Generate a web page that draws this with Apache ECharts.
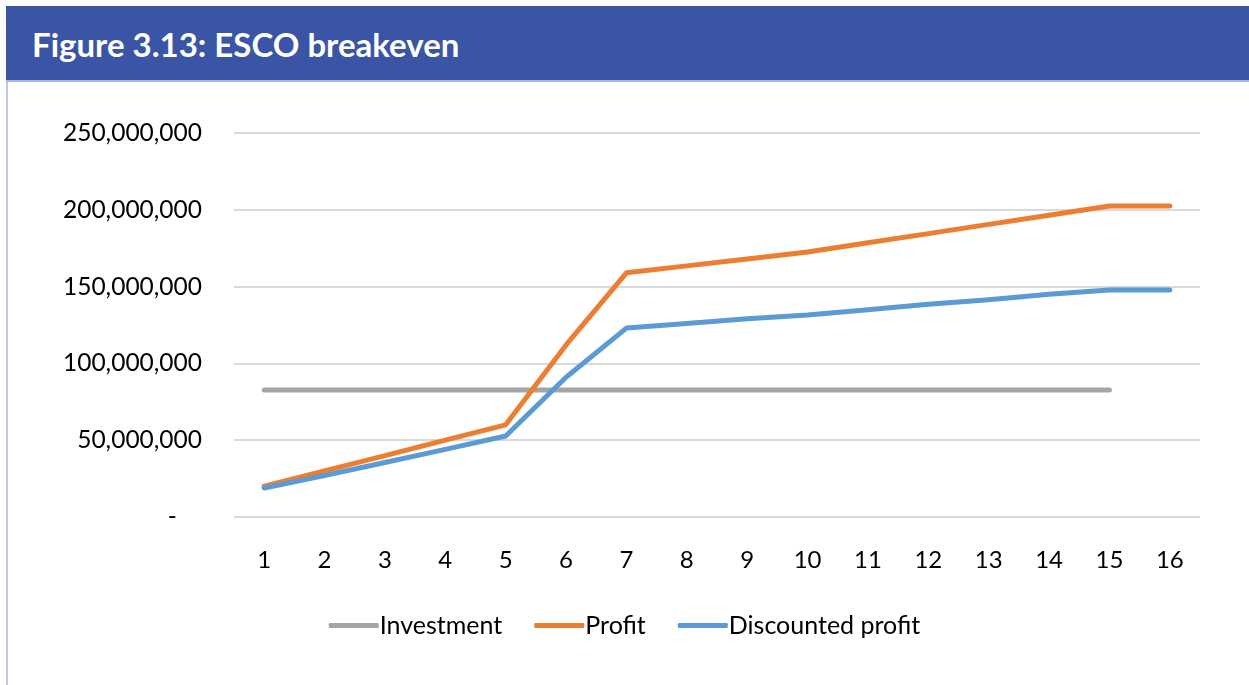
<!DOCTYPE html>
<html>
<head>
<meta charset="utf-8">
<title>Figure 3.13: ESCO breakeven</title>
<script src="https://cdn.jsdelivr.net/npm/echarts@6/dist/echarts.min.js"></script>
<style>
  html, body { margin: 0; padding: 0; background: #fff; }
  .fig { position: relative; width: 1249px; height: 685px; overflow: hidden; }
  .fig-head {
    position: absolute; left: 6px; top: 6px; right: 0; height: 76px;
    background: #3a55a5; border-bottom: 2px solid #a9b6e0;
    color: #fff; font-family: Lato, "Open Sans", sans-serif; font-weight: 700;
    font-size: 33px; line-height: 76px; padding-left: 26px; box-sizing: border-box;
  }
  .fig-border { position: absolute; left: 6px; top: 82px; bottom: 0; width: 2px; background: #c4c4f2; }
  #chart { position: absolute; left: 0; top: 0; width: 1249px; height: 685px; }
</style>
</head>
<body>
<div class="fig">
  <div class="fig-head">Figure 3.13: ESCO breakeven</div>
  <div class="fig-border"></div>
  <div id="chart"></div>
</div>
<script>
const years = ['1', '2', '3', '4', '5', '6', '7', '8', '9', '10', '11', '12', '13', '14', '15', '16']
const investment = [82.7, 82.7, 82.7, 82.7, 82.7, 82.7, 82.7, 82.7, 82.7, 82.7, 82.7, 82.7, 82.7, 82.7, 82.7, null].map(v => v == null ? null : v * 1e6)
const profit = [20, 30, 40, 50, 60, 112, 159, 163.5, 168, 172.5, 178.5, 184.5, 190.5, 196.5, 202.5, 202.5].map(v => v * 1e6)
const discounted = [18.9, 27, 35.5, 44, 52.7, 91, 123, 126, 129, 131.5, 135, 138.5, 141.5, 145, 147.8, 147.8].map(v => v * 1e6)

const font = 'Lato, "Open Sans", sans-serif'
const chart = echarts.init(document.getElementById('chart'))

const lineSeries = (name, data, color) => ({
  name,
  type: 'line',
  data,
  symbol: 'none',
  lineStyle: { color, width: 5, cap: 'round', join: 'round' },
  itemStyle: { color },
  emphasis: { disabled: true }
})

chart.setOption({
  animation: false,
  textStyle: { fontFamily: font },
  grid: { left: 234, right: 49, top: 133, height: 384, containLabel: false },
  xAxis: {
    type: 'category',
    data: years,
    boundaryGap: true,
    axisLine: { show: false },
    axisTick: { show: false },
    axisLabel: { color: '#000', fontSize: 24, margin: 31, fontFamily: font }
  },
  yAxis: {
    type: 'value',
    min: 0,
    max: 250000000,
    interval: 50000000,
    axisLine: { show: false },
    axisTick: { show: false },
    splitLine: { lineStyle: { color: '#d9d9d9', width: 2 } },
    axisLabel: {
      color: '#000', fontSize: 24.5, margin: 32, fontFamily: font,
      formatter: v => v === 0 ? '-    ' : v.toLocaleString('en-US')
    }
  },
  legend: {
    bottom: 42,
    left: 'center',
    itemWidth: 50,
    itemHeight: 5,
    itemGap: 32,
    icon: 'roundRect',
    textStyle: { color: '#000', fontSize: 25, fontFamily: font, padding: [0, 0, 0, -4] },
    data: ['Investment', 'Profit', 'Discounted profit']
  },
  series: [
    lineSeries('Investment', investment, '#a5a5a5'),
    lineSeries('Profit', profit, '#ed7d31'),
    lineSeries('Discounted profit', discounted, '#5b9bd5')
  ]
})
</script>
</body>
</html>
